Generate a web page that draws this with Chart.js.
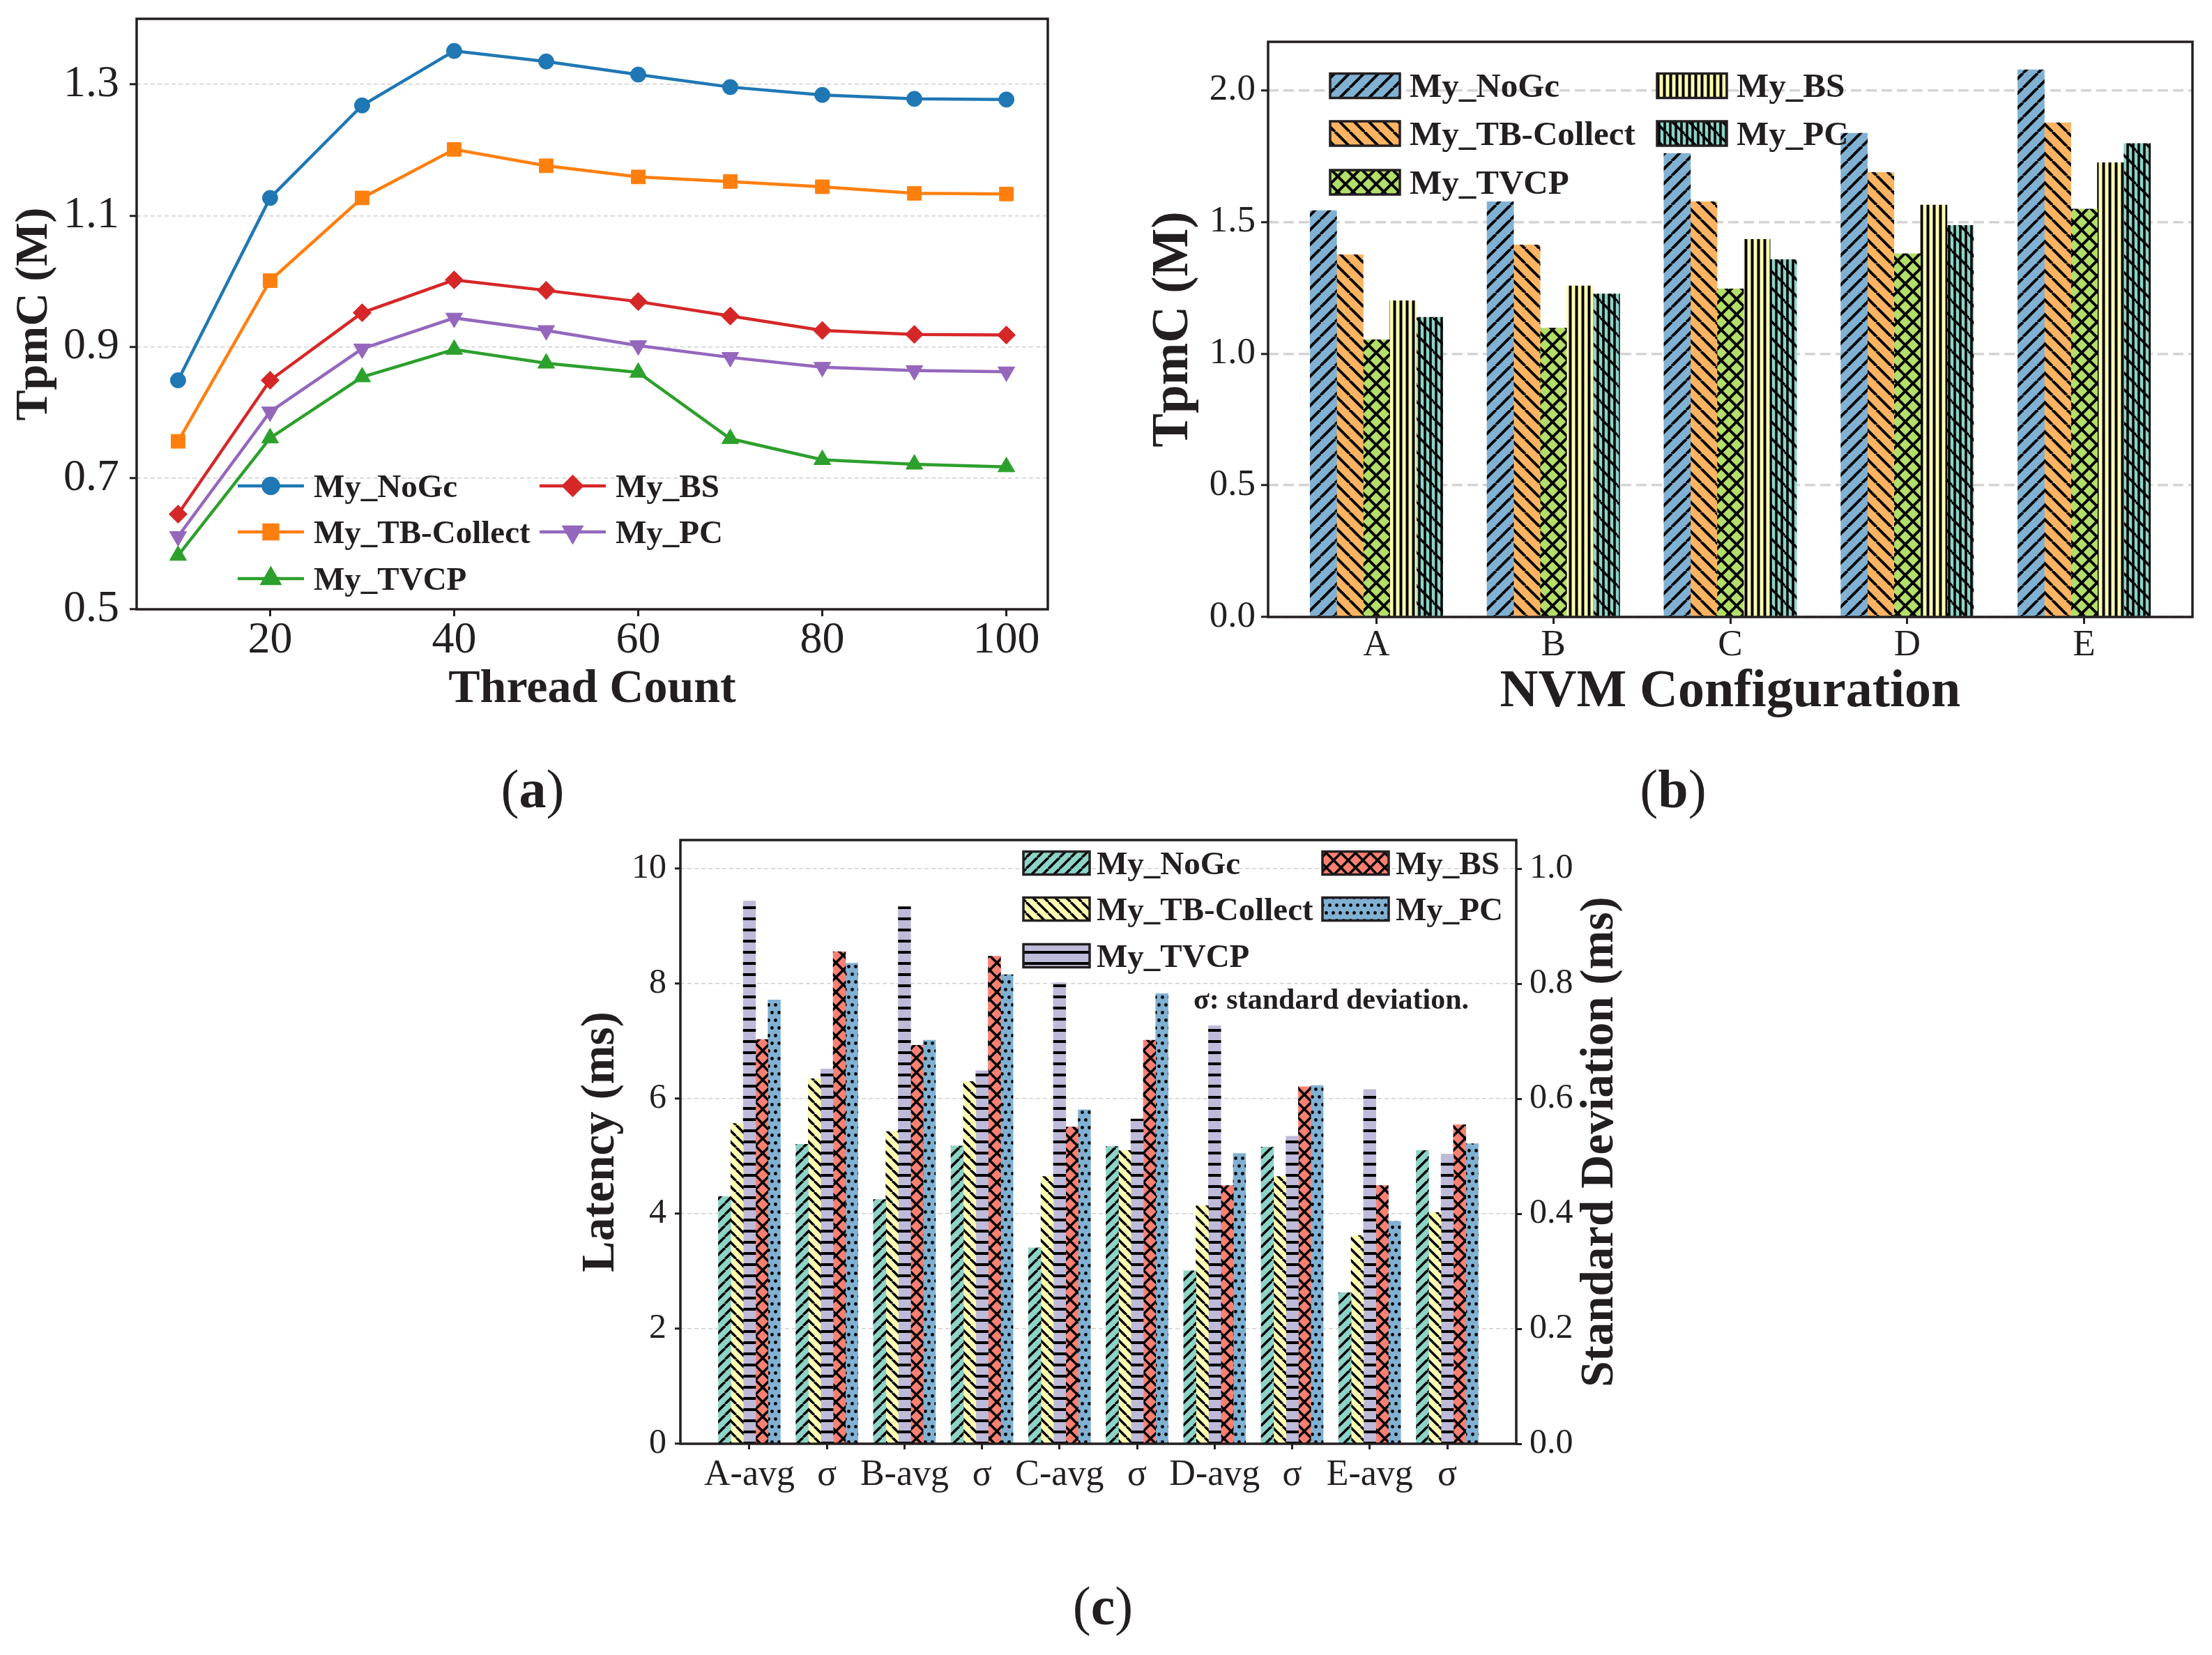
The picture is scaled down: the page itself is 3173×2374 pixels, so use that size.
<!DOCTYPE html>
<html>
<head>
<meta charset="utf-8">
<script src="https://cdn.jsdelivr.net/npm/chart.js@4.4.1/dist/chart.umd.min.js"></script>
<style>
  body { margin: 0; background: #fff; width: 3173px; height: 2374px; position: relative; overflow: hidden; }
  canvas { position: absolute; }
  .cap { position: absolute; font-family: 'Liberation Serif', serif; font-size: 78px; line-height: 1;
         color: #231f20; transform: translate(-50%, -50%); white-space: nowrap; }
</style>
</head>
<body>
<canvas id="chartA" width="1560" height="1040" style="left:0;top:0;width:1560px;height:1040px"></canvas>
<canvas id="chartB" width="1573" height="1040" style="left:1600px;top:0;width:1573px;height:1040px"></canvas>
<canvas id="chartC" width="1600" height="1030" style="left:800px;top:1150px;width:1600px;height:1030px"></canvas>
<div class="cap" style="left:764px;top:1132px">(<b>a</b>)</div>
<div class="cap" style="left:2400px;top:1132px">(<b>b</b>)</div>
<div class="cap" style="left:1582px;top:2304px">(<b>c</b>)</div>
<script>
// ---- (a) throughput vs thread count
const threadCounts = [10, 20, 30, 40, 50, 60, 70, 80, 90, 100];
const tpmcNoGc      = [0.849, 1.127, 1.268, 1.351, 1.335, 1.315, 1.296, 1.284, 1.278, 1.277];
const tpmcTBCollect = [0.756, 1.001, 1.127, 1.201, 1.176, 1.159, 1.152, 1.144, 1.134, 1.133];
const tpmcTVCP      = [0.582, 0.761, 0.854, 0.896, 0.875, 0.861, 0.760, 0.728, 0.721, 0.717];
const tpmcBS        = [0.645, 0.849, 0.952, 1.002, 0.986, 0.969, 0.947, 0.925, 0.919, 0.918];
const tpmcPC        = [0.611, 0.801, 0.897, 0.944, 0.925, 0.902, 0.884, 0.869, 0.864, 0.862];
const threadTicks = [20, 40, 60, 80, 100];
const tpmcTicks = [0.5, 0.7, 0.9, 1.1, 1.3];

// ---- (b) throughput vs NVM configuration
const nvmConfigs = ['A', 'B', 'C', 'D', 'E'];
const nvmNoGc      = [1.543, 1.577, 1.760, 1.837, 2.078];
const nvmTBCollect = [1.376, 1.413, 1.577, 1.688, 1.877];
const nvmTVCP      = [1.053, 1.097, 1.246, 1.380, 1.549];
const nvmBS        = [1.201, 1.257, 1.434, 1.564, 1.725];
const nvmPC        = [1.138, 1.227, 1.357, 1.487, 1.798];
const nvmTicks = [0.0, 0.5, 1.0, 1.5, 2.0];

// ---- (c) latency: average (left axis) and standard deviation (right axis)
const latencyLabels = ['A-avg', 'σ', 'B-avg', 'σ', 'C-avg', 'σ', 'D-avg', 'σ', 'E-avg', 'σ'];
const avgNoGc      = [4.30, 4.25, 3.41, 3.01, 2.63];
const sdNoGc       = [0.521, 0.518, 0.517, 0.516, 0.510];
const avgTBCollect = [5.57, 5.43, 4.65, 4.14, 3.62];
const sdTBCollect  = [0.635, 0.630, 0.510, 0.465, 0.402];
const avgTVCP      = [9.44, 9.34, 8.02, 7.27, 6.16];
const sdTVCP       = [0.652, 0.649, 0.565, 0.535, 0.503];
const avgBS        = [7.03, 6.93, 5.51, 4.49, 4.49];
const sdBS         = [0.856, 0.848, 0.702, 0.621, 0.555];
const avgPC        = [7.72, 7.02, 5.81, 5.05, 3.87];
const sdPC         = [0.836, 0.816, 0.783, 0.623, 0.522];
const latencyTicks = [0, 2, 4, 6, 8, 10];
const sdTicks = [0.0, 0.2, 0.4, 0.6, 0.8, 1.0];

const ink = '#231f20';
const serif = "'Liberation Serif', 'Times New Roman', serif";

// matplotlib-like hatch fills
function hatch(bg, kind, p, lw) {
  const tile = document.createElement('canvas');
  const h = kind === 'dots' ? 2 * p + 2 : p;
  tile.width = p; tile.height = h;
  const c = tile.getContext('2d');
  c.fillStyle = bg; c.fillRect(0, 0, p, h);
  c.strokeStyle = '#000'; c.fillStyle = '#000'; c.lineWidth = lw;
  const fwd = () => { for (let k = -1; k <= 1; k++) { c.beginPath(); c.moveTo(k * p, p); c.lineTo(k * p + p, 0); c.stroke(); } };
  const back = () => { for (let k = -1; k <= 1; k++) { c.beginPath(); c.moveTo(k * p, 0); c.lineTo(k * p + p, p); c.stroke(); } };
  if (kind === 'fwd') fwd();
  if (kind === 'back') back();
  if (kind === 'cross') { fwd(); back(); }
  if (kind === 'vert') c.fillRect(p / 2 - lw / 2, 0, lw, p);
  if (kind === 'vertBack') {
    for (let k = 0; k < 3; k++) c.fillRect(p / 6 + k * p / 3 - lw / 2, 0, lw, p);
    back();
  }
  if (kind === 'horiz') c.fillRect(0, p / 2 - lw / 2, p, lw);
  if (kind === 'dots') {
    [[p / 4, h / 4], [3 * p / 4, 3 * h / 4]].forEach(([x, y]) => { c.beginPath(); c.arc(x, y, 2.4, 0, Math.PI * 2); c.fill(); });
  }
  return c.createPattern(tile, 'repeat');
}

const framePlugin = {
  id: 'frame',
  afterDatasetsDraw(chart) {
    const { ctx, chartArea: a } = chart;
    ctx.save();
    ctx.strokeStyle = ink; ctx.lineWidth = 3.5;
    ctx.strokeRect(a.left, a.top, a.right - a.left, a.bottom - a.top);
    ctx.restore();
  }
};

const baseOptions = {
  responsive: false,
  animation: false,
  events: [],
  devicePixelRatio: 1
};

function tickFont(size) { return { family: serif, size: size, lineHeight: 1 }; }
function flatFont(size) { return { family: serif, size: size, lineHeight: 0.1 }; }
function titleFont(size) { return { family: serif, size: size, weight: 'bold', lineHeight: 1 }; }

// ================= (a) =================
const lineSeries = [
  { label: 'My_NoGc', values: tpmcNoGc, color: '#1f77b4', marker: 'circle', radius: 11 },
  { label: 'My_TB-Collect', values: tpmcTBCollect, color: '#ff7f0e', marker: 'rect', radius: 14 },
  { label: 'My_TVCP', values: tpmcTVCP, color: '#2ca02c', marker: 'triangle', radius: 14 },
  { label: 'My_BS', values: tpmcBS, color: '#d62728', marker: 'rectRot', radius: 13 },
  { label: 'My_PC', values: tpmcPC, color: '#9467bd', marker: 'triangle', radius: 14, rotation: 180 }
];

const lineLegend = {
  id: 'lineLegend',
  afterDraw(chart) {
    const { ctx, chartArea: a } = chart;
    const colX = [145, 578], rowY = [-177, -111, -44];
    ctx.save();
    lineSeries.forEach((s, k) => {
      const x = a.left + colX[Math.floor(k / 3)];
      const y = a.bottom + rowY[k % 3];
      ctx.strokeStyle = s.color; ctx.fillStyle = s.color; ctx.lineWidth = 4.5;
      ctx.beginPath(); ctx.moveTo(x, y); ctx.lineTo(x + 95, y); ctx.stroke();
      Chart.helpers.drawPoint(ctx, { pointStyle: s.marker, rotation: s.rotation || 0, radius: s.radius, borderWidth: 1 }, x + 47.5, y);
      ctx.fillStyle = ink;
      ctx.font = 'bold 47px ' + serif;
      ctx.textBaseline = 'alphabetic';
      ctx.fillText(s.label, x + 109, y + 47 * 0.33);
    });
    ctx.restore();
  }
};

new Chart(document.getElementById('chartA'), {
  type: 'line',
  data: {
    datasets: lineSeries.map((s, j) => ({
      label: s.label,
      data: threadCounts.map((x, i) => ({ x: x, y: s.values[i] })),
      borderColor: s.color,
      backgroundColor: s.color,
      pointBackgroundColor: s.color,
      pointBorderColor: s.color,
      pointBorderWidth: 1,
      pointStyle: s.marker,
      pointRotation: s.rotation || 0,
      pointRadius: s.radius,
      borderWidth: 4.5,
      tension: 0,
      order: lineSeries.length - j
    }))
  },
  options: Object.assign({}, baseOptions, {
    layout: { padding: { top: 27, right: 57, left: 0, bottom: 0 } },
    plugins: { legend: { display: false }, tooltip: { enabled: false } },
    scales: {
      x: {
        type: 'linear', min: 5.5, max: 104.5,
        afterBuildTicks: (s) => { s.ticks = threadTicks.map(v => ({ value: v })); },
        afterFit: (s) => { s.height = 166; },
        border: { display: false },
        grid: { drawOnChartArea: false, tickLength: 10, tickWidth: 3, tickColor: ink },
        ticks: { font: tickFont(64), color: ink, padding: 3, maxRotation: 0, autoSkip: false },
        title: { display: true, text: 'Thread Count', color: ink, font: titleFont(68), padding: { top: 0, bottom: 17 } }
      },
      y: {
        type: 'linear', min: 0.5, max: 1.4,
        afterBuildTicks: (s) => { s.ticks = tpmcTicks.map(v => ({ value: v })); },
        afterFit: (s) => { s.width = 196; },
        border: { display: false, dash: [6, 4] },
        grid: { color: '#cfcfcf', lineWidth: 1.5, tickLength: 10, tickWidth: 3, tickColor: ink },
        ticks: { font: flatFont(64), color: ink, padding: 15, callback: (v) => v.toFixed(1) },
        title: { display: true, text: 'TpmC (M)', color: ink, font: titleFont(66), padding: { top: 17, bottom: 0 } }
      }
    }
  }),
  plugins: [framePlugin, lineLegend]
});

// ================= (b) =================
const nvmSeries = [
  { label: 'My_NoGc', values: nvmNoGc, fill: hatch('#80b1d3', 'fwd', 21, 4) },
  { label: 'My_TB-Collect', values: nvmTBCollect, fill: hatch('#fdb462', 'back', 21, 4) },
  { label: 'My_TVCP', values: nvmTVCP, fill: hatch('#b3de69', 'cross', 22, 4) },
  { label: 'My_BS', values: nvmBS, fill: hatch('#ffffb3', 'vert', 9, 4) },
  { label: 'My_PC', values: nvmPC, fill: hatch('#8dd3c7', 'vertBack', 24, 3.5) }
];

function boxLegend(series, cfg) {
  return {
    id: 'boxLegend',
    afterDraw(chart) {
      const { ctx, chartArea: a } = chart;
      ctx.save();
      series.forEach((s, k) => {
        const col = Math.floor(k / 3), row = k % 3;
        const x = a.left + cfg.colX[col];
        const y = a.top + cfg.rowY[row];
        ctx.fillStyle = s.fill;
        ctx.fillRect(x, y - cfg.h / 2, cfg.w, cfg.h);
        ctx.strokeStyle = ink; ctx.lineWidth = 3.5;
        ctx.strokeRect(x, y - cfg.h / 2, cfg.w, cfg.h);
        ctx.fillStyle = ink;
        ctx.font = 'bold ' + cfg.font + 'px ' + serif;
        ctx.textBaseline = 'alphabetic';
        ctx.fillText(s.label, x + cfg.w + cfg.gap, y + cfg.font * 0.33);
      });
      if (cfg.extra) cfg.extra(ctx, a);
      ctx.restore();
    }
  };
}

const nvmWidth = 0.15;
new Chart(document.getElementById('chartB'), {
  type: 'bar',
  data: {
    datasets: nvmSeries.map((s, j) => ({
      label: s.label,
      data: s.values.map((v, i) => ({ x: i + (j - 2) * nvmWidth, y: v })),
      backgroundColor: s.fill,
      borderWidth: 0,
      grouped: false,
      barPercentage: 1,
      categoryPercentage: 1
    }))
  },
  options: Object.assign({}, baseOptions, {
    layout: { padding: { top: 60, right: 28, left: 0, bottom: 0 } },
    plugins: { legend: { display: false }, tooltip: { enabled: false } },
    scales: {
      x: {
        type: 'linear', min: -0.6125, max: 4.6125, offset: false,
        afterBuildTicks: (s) => { s.ticks = nvmConfigs.map((_, i) => ({ value: i })); },
        afterFit: (s) => { s.height = 155; },
        border: { display: false },
        grid: { offset: false, drawOnChartArea: false, tickLength: 10, tickWidth: 3, tickColor: ink },
        ticks: { font: tickFont(53), color: ink, padding: 5, maxRotation: 0, autoSkip: false,
                 callback: (v) => nvmConfigs[v] },
        title: { display: true, text: 'NVM Configuration', color: ink, font: titleFont(76), padding: { top: 0, bottom: 9 } }
      },
      y: {
        type: 'linear', min: 0, max: 2.184,
        afterBuildTicks: (s) => { s.ticks = nvmTicks.map(v => ({ value: v })); },
        afterFit: (s) => { s.width = 219; },
        border: { display: false, dash: [15, 7] },
        grid: { color: '#d4d4d4', lineWidth: 3.5, tickLength: 10, tickWidth: 3, tickColor: ink },
        ticks: { font: flatFont(53), color: ink, padding: 8, callback: (v) => v.toFixed(1) },
        title: { display: true, text: 'TpmC (M)', color: ink, font: titleFont(73), padding: { top: 48, bottom: 0 } }
      }
    }
  }),
  plugins: [framePlugin, boxLegend(nvmSeries, { colX: [89, 558], rowY: [63, 131.5, 201.5], w: 100, h: 35, gap: 14, font: 49 })]
});

// ================= (c) =================
const latSeries = [
  { label: 'My_NoGc', avg: avgNoGc, sd: sdNoGc, fill: hatch('#8dd3c7', 'fwd', 16, 3.5) },
  { label: 'My_TB-Collect', avg: avgTBCollect, sd: sdTBCollect, fill: hatch('#ffffb3', 'back', 16, 3.5) },
  { label: 'My_TVCP', avg: avgTVCP, sd: sdTVCP, fill: hatch('#bebada', 'horiz', 16, 4) },
  { label: 'My_BS', avg: avgBS, sd: sdBS, fill: hatch('#fb8072', 'cross', 21, 3.5) },
  { label: 'My_PC', avg: avgPC, sd: sdPC, fill: hatch('#80b1d3', 'dots', 10, 0) }
];

const latWidth = 0.16;
const latDatasets = [];
latSeries.forEach((s, j) => {
  const common = { label: s.label, backgroundColor: s.fill, borderWidth: 0, grouped: false, barPercentage: 1, categoryPercentage: 1 };
  latDatasets.push(Object.assign({}, common, {
    yAxisID: 'y',
    data: s.avg.map((v, i) => ({ x: 2 * i + (j - 2) * latWidth, y: v }))
  }));
  latDatasets.push(Object.assign({}, common, {
    yAxisID: 'y2',
    data: s.sd.map((v, i) => ({ x: 2 * i + 1 + (j - 2) * latWidth, y: v }))
  }));
});

const sdTitle = (ctx, a) => {
  ctx.fillStyle = ink;
  ctx.font = 'bold 42px ' + serif;
  ctx.textBaseline = 'alphabetic';
  ctx.fillText('σ: standard deviation.', a.left + 736, a.top + 228 + 42 * 0.33);
  ctx.save();
  ctx.translate(1496, (a.top + a.bottom) / 2);
  ctx.rotate(-Math.PI / 2);
  ctx.font = 'bold 67px ' + serif;
  ctx.textAlign = 'center';
  ctx.textBaseline = 'middle';
  ctx.fillText('Standard Deviation (ms)', 0, 0);
  ctx.restore();
};

new Chart(document.getElementById('chartC'), {
  type: 'bar',
  data: { datasets: latDatasets },
  options: Object.assign({}, baseOptions, {
    layout: { padding: { top: 55, right: 0, left: 0, bottom: 0 } },
    plugins: { legend: { display: false }, tooltip: { enabled: false } },
    scales: {
      x: {
        type: 'linear', min: -0.89, max: 9.89, offset: false,
        afterBuildTicks: (s) => { s.ticks = latencyLabels.map((_, i) => ({ value: i })); },
        afterFit: (s) => { s.height = 109; },
        border: { display: false },
        grid: { offset: false, drawOnChartArea: false, tickLength: 8, tickWidth: 3, tickColor: ink },
        ticks: { font: tickFont(52), color: ink, padding: 11, maxRotation: 0, autoSkip: false,
                 callback: (v) => latencyLabels[v] }
      },
      y: {
        type: 'linear', position: 'left', min: 0, max: 10.5,
        afterBuildTicks: (s) => { s.ticks = latencyTicks.map(v => ({ value: v })); },
        afterFit: (s) => { s.width = 176; },
        border: { display: false, dash: [6, 4] },
        grid: { color: '#cfcfcf', lineWidth: 1.5, tickLength: 8, tickWidth: 3, tickColor: ink },
        ticks: { font: flatFont(50), color: ink, padding: 12 },
        title: { display: true, text: 'Latency (ms)', color: ink, font: titleFont(67), padding: { top: 29, bottom: 0 } }
      },
      y2: {
        type: 'linear', position: 'right', min: 0, max: 1.05,
        afterBuildTicks: (s) => { s.ticks = sdTicks.map(v => ({ value: v })); },
        afterFit: (s) => { s.width = 225; },
        border: { display: false },
        grid: { drawOnChartArea: false, tickLength: 8, tickWidth: 3, tickColor: ink },
        ticks: { font: flatFont(50), color: ink, padding: 11, callback: (v) => v.toFixed(1) }
      }
    }
  }),
  plugins: [framePlugin, boxLegend(latSeries, { colX: [492, 921], rowY: [33, 99, 166], w: 95, h: 33, gap: 10, font: 47, extra: sdTitle })]
});
</script>
</body>
</html>
